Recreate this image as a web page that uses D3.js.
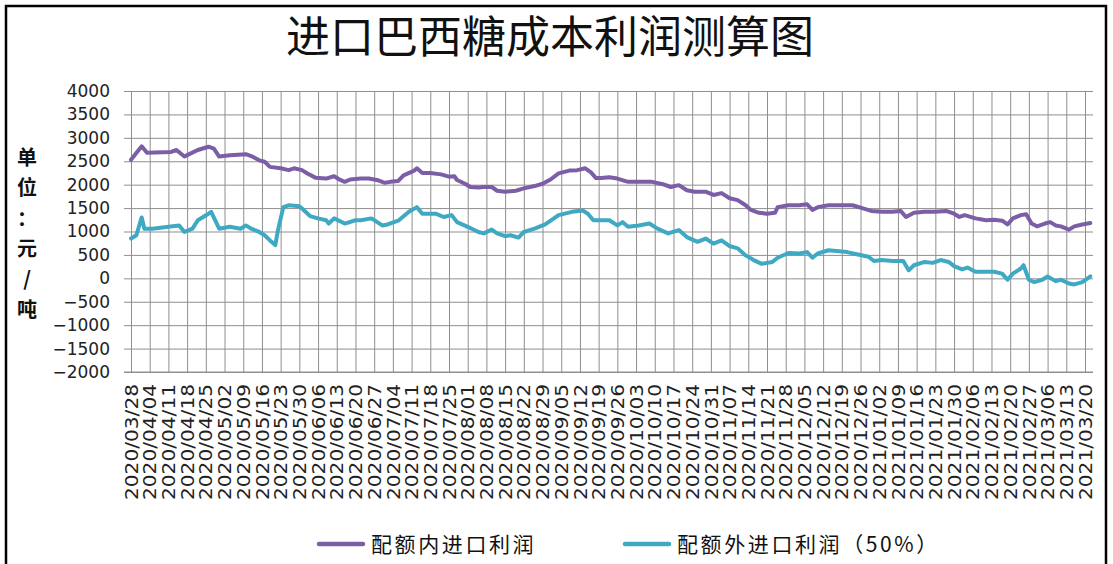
<!DOCTYPE html>
<html>
<head>
<meta charset="utf-8">
<script src="https://cdn.jsdelivr.net/npm/d3@7"></script>
<style>
  body { margin: 0; background: #fff; }
  svg { display: block; }
</style>
</head>
<body>
<svg id="chart" width="1113" height="564"></svg>
<script>
// weekly tick labels on the date axis
var tickLabels = ["2020/03/28","2020/04/04","2020/04/11","2020/04/18","2020/04/25","2020/05/02","2020/05/09","2020/05/16","2020/05/23","2020/05/30","2020/06/06","2020/06/13","2020/06/20","2020/06/27","2020/07/04","2020/07/11","2020/07/18","2020/07/25","2020/08/01","2020/08/08","2020/08/15","2020/08/22","2020/08/29","2020/09/05","2020/09/12","2020/09/19","2020/09/26","2020/10/03","2020/10/10","2020/10/17","2020/10/24","2020/10/31","2020/11/07","2020/11/14","2020/11/21","2020/11/28","2020/12/05","2020/12/12","2020/12/19","2020/12/26","2021/01/02","2021/01/09","2021/01/16","2021/01/23","2021/01/30","2021/02/06","2021/02/13","2021/02/20","2021/02/27","2021/03/06","2021/03/13","2021/03/20"]
var yTicks = [-2000,-1500,-1000,-500,0,500,1000,1500,2000,2500,3000,3500,4000]

var seriesNames = ["配额内进口利润", "配额外进口利润（50%）"]
var yTitle = ["单","位","：","元","/","吨"]

// 配额内进口利润
var inQuotaDates = ["2020/03/28","2020/04/01","2020/04/03","2020/04/12","2020/04/14","2020/04/17","2020/04/18","2020/04/22","2020/04/26","2020/04/28","2020/04/30","2020/05/04","2020/05/10","2020/05/12","2020/05/15","2020/05/17","2020/05/19","2020/05/23","2020/05/26","2020/05/28","2020/05/31","2020/06/02","2020/06/05","2020/06/09","2020/06/12","2020/06/14","2020/06/16","2020/06/18","2020/06/22","2020/06/25","2020/06/28","2020/07/01","2020/07/03","2020/07/06","2020/07/08","2020/07/12","2020/07/13","2020/07/15","2020/07/18","2020/07/22","2020/07/25","2020/07/27","2020/07/28","2020/07/31","2020/08/02","2020/08/05","2020/08/07","2020/08/10","2020/08/12","2020/08/15","2020/08/19","2020/08/22","2020/08/26","2020/08/29","2020/09/01","2020/09/04","2020/09/08","2020/09/11","2020/09/14","2020/09/16","2020/09/18","2020/09/20","2020/09/23","2020/09/26","2020/09/30","2020/10/05","2020/10/09","2020/10/13","2020/10/16","2020/10/19","2020/10/22","2020/10/25","2020/10/29","2020/11/01","2020/11/04","2020/11/07","2020/11/10","2020/11/13","2020/11/15","2020/11/18","2020/11/21","2020/11/24","2020/11/25","2020/11/29","2020/12/03","2020/12/06","2020/12/08","2020/12/10","2020/12/14","2020/12/18","2020/12/23","2020/12/26","2020/12/30","2021/01/03","2021/01/07","2021/01/10","2021/01/12","2021/01/15","2021/01/19","2021/01/23","2021/01/27","2021/01/30","2021/02/01","2021/02/03","2021/02/07","2021/02/11","2021/02/14","2021/02/17","2021/02/19","2021/02/21","2021/02/24","2021/02/26","2021/02/28","2021/03/02","2021/03/05","2021/03/07","2021/03/09","2021/03/11","2021/03/14","2021/03/16","2021/03/19","2021/03/22"]
var inQuotaValues = [2530,2820,2680,2700,2740,2600,2630,2740,2810,2770,2600,2630,2650,2610,2520,2490,2380,2350,2310,2350,2310,2240,2150,2130,2180,2110,2060,2110,2130,2130,2100,2040,2060,2080,2200,2300,2350,2250,2250,2220,2170,2180,2100,2020,1950,1940,1950,1950,1870,1850,1870,1920,1970,2020,2110,2240,2300,2310,2350,2270,2140,2140,2160,2130,2060,2060,2060,2010,1950,1990,1880,1850,1850,1780,1820,1710,1670,1560,1460,1400,1380,1400,1520,1560,1560,1580,1460,1520,1560,1560,1560,1510,1440,1420,1420,1440,1310,1400,1420,1420,1440,1380,1310,1350,1280,1240,1250,1230,1150,1280,1350,1370,1170,1110,1170,1200,1130,1110,1040,1110,1150,1180]

// 配额外进口利润（50%）
var outQuotaDates = ["2020/03/28","2020/03/30","2020/04/01","2020/04/02","2020/04/05","2020/04/11","2020/04/15","2020/04/17","2020/04/20","2020/04/22","2020/04/26","2020/04/27","2020/04/30","2020/05/04","2020/05/08","2020/05/10","2020/05/12","2020/05/15","2020/05/17","2020/05/19","2020/05/21","2020/05/22","2020/05/24","2020/05/26","2020/05/30","2020/05/31","2020/06/03","2020/06/06","2020/06/09","2020/06/10","2020/06/12","2020/06/16","2020/06/20","2020/06/22","2020/06/26","2020/06/30","2020/07/02","2020/07/06","2020/07/10","2020/07/13","2020/07/15","2020/07/20","2020/07/23","2020/07/26","2020/07/28","2020/08/01","2020/08/05","2020/08/07","2020/08/10","2020/08/12","2020/08/15","2020/08/17","2020/08/20","2020/08/22","2020/08/26","2020/08/30","2020/09/04","2020/09/09","2020/09/13","2020/09/15","2020/09/17","2020/09/20","2020/09/23","2020/09/26","2020/09/28","2020/09/30","2020/10/04","2020/10/08","2020/10/11","2020/10/15","2020/10/19","2020/10/22","2020/10/26","2020/10/29","2020/11/01","2020/11/04","2020/11/07","2020/11/10","2020/11/13","2020/11/16","2020/11/19","2020/11/23","2020/11/25","2020/11/29","2020/12/03","2020/12/06","2020/12/08","2020/12/10","2020/12/14","2020/12/18","2020/12/21","2020/12/25","2020/12/29","2020/12/31","2021/01/03","2021/01/07","2021/01/11","2021/01/13","2021/01/15","2021/01/19","2021/01/22","2021/01/25","2021/01/28","2021/01/30","2021/02/02","2021/02/04","2021/02/07","2021/02/11","2021/02/14","2021/02/17","2021/02/19","2021/02/21","2021/02/24","2021/02/25","2021/02/27","2021/03/01","2021/03/04","2021/03/06","2021/03/09","2021/03/11","2021/03/14","2021/03/16","2021/03/19","2021/03/22"]
var outQuotaValues = [850,920,1300,1060,1060,1100,1130,990,1060,1240,1380,1420,1060,1100,1060,1130,1060,990,920,810,710,1030,1520,1560,1540,1490,1330,1280,1240,1170,1280,1170,1240,1240,1280,1130,1150,1230,1420,1520,1380,1380,1310,1350,1200,1100,990,960,1040,960,900,920,870,990,1060,1150,1350,1420,1450,1380,1240,1240,1240,1130,1200,1100,1130,1170,1060,960,1030,880,780,850,740,810,690,640,490,390,310,350,440,540,530,560,440,530,600,580,560,510,460,370,390,370,370,170,280,350,330,390,350,260,190,230,140,140,140,100,-30,100,210,280,-30,-80,-30,40,-60,-30,-110,-130,-80,40]

var colors = ["#7b5ea6", "#3fa9c3"]
var parse = d3.timeParse("%Y/%m/%d")
var fmt = d3.timeFormat("%Y/%m/%d")

var plot = {left: 124, right: 1093, top: 91, bottom: 372}

var x = d3.scaleTime()
    .domain([parse(tickLabels[0]), parse(tickLabels[tickLabels.length - 1])])
    .range([131, 1085])
var y = d3.scaleLinear()
    .domain([-2000, 4000])
    .range([plot.bottom, plot.top])

var svg = d3.select('#chart')

// outer frame
svg.append('rect')
    .attr('x', 6).attr('y', 6)
    .attr('width', 1100).attr('height', 600)
    .attr('fill', 'none')
    .attr('stroke', '#000')
    .attr('stroke-width', 2.5)

svg.append('text')
    .attr('x', 550).attr('y', 53)
    .attr('text-anchor', 'middle')
    .style('font-family', '"Noto Sans CJK SC"')
    .style('font-size', '44px')
    .attr('fill', '#111')
    .text('进口巴西糖成本利润测算图')

// horizontal grid + y labels
var yAxis = svg.append('g')
    .attr('transform', 'translate(' + plot.left + ',0)')
    .call(d3.axisLeft(y)
        .tickValues(yTicks)
        .tickSize(-(plot.right - plot.left))
        .tickPadding(14)
        .tickFormat(d3.format('d')))
yAxis.select('.domain').remove()
yAxis.selectAll('line').attr('stroke', '#8f8f8f')
yAxis.selectAll('text')
    .style('font-family', '"DejaVu Sans"')
    .style('font-size', '17px')
    .attr('fill', '#222')

// vertical grid + date labels
var xAxis = svg.append('g')
    .attr('transform', 'translate(0,' + plot.bottom + ')')
    .call(d3.axisBottom(x)
        .tickValues(tickLabels.map(parse))
        .tickSize(-(plot.bottom - plot.top))
        .tickFormat(fmt))
xAxis.select('.domain').remove()
xAxis.selectAll('line').attr('stroke', '#8f8f8f')
xAxis.selectAll('text')
    .attr('transform', 'rotate(-90)')
    .attr('x', -12)
    .attr('y', 0)
    .attr('dy', '0.36em')
    .attr('text-anchor', 'end')
    .attr('textLength', 116)
    .attr('lengthAdjust', 'spacingAndGlyphs')
    .style('font-family', '"DejaVu Sans"')
    .style('font-size', '17px')
    .attr('fill', '#222')

// bottom edge of the plot
svg.append('line')
    .attr('x1', plot.left).attr('x2', plot.right)
    .attr('y1', y(-2000)).attr('y2', y(-2000))
    .attr('stroke', '#8f8f8f')

var series = [
    inQuotaDates.map(function(d, i){ return {date: parse(d), value: inQuotaValues[i]} }),
    outQuotaDates.map(function(d, i){ return {date: parse(d), value: outQuotaValues[i]} })
]

var line = d3.line()
    .x(function(d){ return x(d.date) })
    .y(function(d){ return y(d.value) })

svg.append('g')
    .selectAll('path')
    .data(series)
    .enter()
    .append('path')
    .attr('d', line)
    .attr('fill', 'none')
    .attr('stroke', function(d, i){ return colors[i] })
    .attr('stroke-width', 4)
    .attr('stroke-linejoin', 'round')
    .attr('stroke-linecap', 'round')

// vertical unit title
svg.append('g')
    .selectAll('text')
    .data(yTitle)
    .enter()
    .append('text')
    .attr('x', 27)
    .attr('y', function(d, i){ return 158 + i * 30.3 })
    .attr('dy', '0.35em')
    .attr('text-anchor', 'middle')
    .style('font-family', '"Noto Sans CJK SC"')
    .style('font-size', '20px')
    .style('font-weight', 'bold')
    .attr('fill', '#111')
    .text(function(d){ return d })

// legend
var legendX = [319, 625]
var legend = svg.append('g')
    .selectAll('g')
    .data(seriesNames)
    .enter()
    .append('g')
    .attr('transform', function(d, i){ return 'translate(' + legendX[i] + ',544)' })
legend.append('line')
    .attr('x1', 0).attr('x2', 44)
    .attr('stroke', function(d, i){ return colors[i] })
    .attr('stroke-width', 4.5)
    .attr('stroke-linecap', 'round')
legend.append('text')
    .attr('x', 52)
    .attr('dy', '0.36em')
    .style('font-family', '"Noto Sans CJK SC"')
    .style('font-size', '21px')
    .style('letter-spacing', '2.6px')
    .attr('fill', '#111')
    .text(function(d){ return d })
</script>
</body>
</html>
